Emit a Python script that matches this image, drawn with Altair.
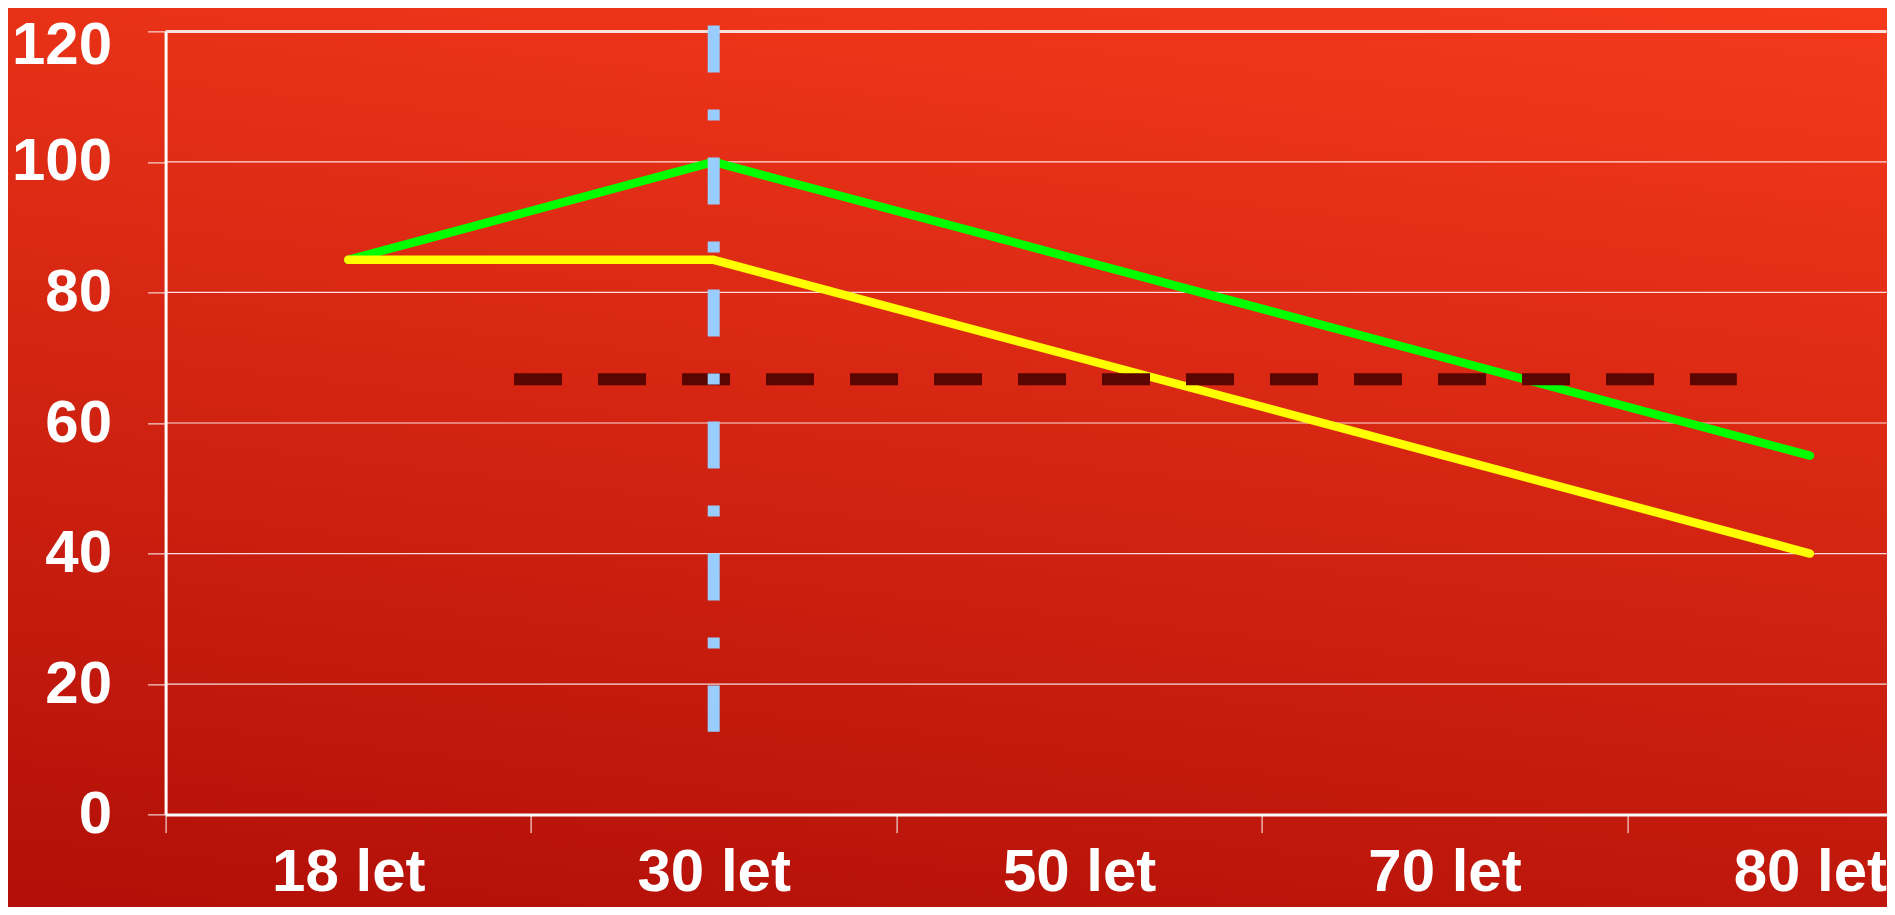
import altair as alt
import pandas as pd

# ---- data ----
ages = ["18 let", "30 let", "50 let", "70 let", "80 let"]
green_vals = [85, 100, 85, 70, 55]
yellow_vals = [85, 85, 70, 55, 40]
y_ticks = [0, 20, 40, 60, 80, 100, 120]
threshold_value = 66.7
threshold_from = ["18 let", 0.9535]
threshold_to = ["80 let", 0.30]
marker_age = "30 let"
marker_top = 120.9
marker_bottom = 12.7

# ---- layout ----
W = 1721
H = 783.2
BAND_RANGE = 1827
PAD = {"left": 157.6, "top": 23.4, "right": 0, "bottom": 92.4}
FONT = "Liberation Sans"

lines_df = pd.DataFrame({"age": ages, "green": green_vals, "yellow": yellow_vals})
grid_df = pd.DataFrame({"v": y_ticks})
thr_df = pd.DataFrame({"a0": [threshold_from[0]], "a1": [threshold_to[0]], "v": [threshold_value]})
marker_df = pd.DataFrame({"age": [marker_age], "top": [marker_top], "bottom": [marker_bottom]})
bg_df = pd.DataFrame({"k": [0]})

x_scale = alt.Scale(type="band", domain=ages, range=[0, BAND_RANGE], paddingInner=0, paddingOuter=0)
y_scale = alt.Scale(domain=[0, 120], nice=False, zero=True)

x_axis = alt.Axis(
    title=None, zindex=1, domainColor="white", domainWidth=3, tickColor="white", tickWidth=1,
    tickSize=18, tickBand="extent", labelColor="white", labelFont=FONT, labelFontWeight="bold",
    labelFontSize=60, labelBaseline="alphabetic", labelPadding=58, labelAngle=0, grid=False,
)
y_axis = alt.Axis(
    title=None, zindex=1, values=y_ticks, domainColor="white", domainWidth=3, tickColor="white",
    tickWidth=1, tickSize=18, labelColor="white", labelFont=FONT, labelFontWeight="bold",
    labelFontSize=60, labelPadding=36, labelBaseline="middle", grid=False,
    labelOffset={"condition": {"test": "datum.value == 120", "value": 14}, "value": 0},
)

grad = alt.LinearGradient(
    gradient="linear",
    stops=[alt.GradientStop(color="#B20F08", offset=0), alt.GradientStop(color="#F53A1B", offset=1)],
    x1=0, y1=1, x2=0.282, y2=-0.173,
)

bg = alt.Chart(bg_df).mark_rect(fill=grad, strokeWidth=0).encode(
    x=alt.value(-PAD["left"]), x2=alt.value(W + 20),
    y=alt.value(-PAD["top"]), y2=alt.value(H + PAD["bottom"]),
)

grid = alt.Chart(grid_df).mark_rule(color="white", opacity=0.85).encode(
    y=alt.Y("v:Q", scale=y_scale, axis=y_axis),
    strokeWidth=alt.condition("datum.v == 120", alt.value(3), alt.value(1.2)),
)

green = alt.Chart(lines_df).mark_line(color="#00FF00", strokeWidth=8.5, strokeCap="round", strokeJoin="round").encode(
    x=alt.X("age:N", scale=x_scale, axis=x_axis, bandPosition=0.5, sort=ages),
    y=alt.Y("green:Q", scale=y_scale, axis=y_axis),
)
yellow = alt.Chart(lines_df).mark_line(color="#FFFF00", strokeWidth=8.5, strokeCap="round", strokeJoin="round").encode(
    x=alt.X("age:N", scale=x_scale, axis=x_axis, bandPosition=0.5, sort=ages),
    y=alt.Y("yellow:Q", scale=y_scale, axis=y_axis),
)

thr = alt.Chart(thr_df).mark_rule(color="#5A0500", strokeWidth=12, strokeDash=[48, 36], strokeCap="butt").encode(
    x=alt.X("a0:N", scale=x_scale, axis=x_axis, bandPosition=threshold_from[1]),
    x2=alt.X2("a1", bandPosition=threshold_to[1]),
    y=alt.Y("v:Q", scale=y_scale, axis=y_axis),
)

marker = alt.Chart(marker_df).mark_rule(color="#99CCFF", strokeWidth=12, strokeDash=[47, 37, 11, 37], strokeCap="butt").encode(
    x=alt.X("age:N", scale=x_scale, axis=x_axis, bandPosition=0.5),
    y=alt.Y("top:Q", scale=y_scale, axis=y_axis),
    y2=alt.Y2("bottom"),
)

chart = alt.layer(bg, grid, green, yellow, thr, marker).properties(
    width=W, height=H,
    autosize=alt.AutoSizeParams(type="none"),
    padding=PAD,
    background="#D02412",
).configure_view(stroke=None)

chart.save("out.html", embed_options={"renderer": "svg", "actions": False})
